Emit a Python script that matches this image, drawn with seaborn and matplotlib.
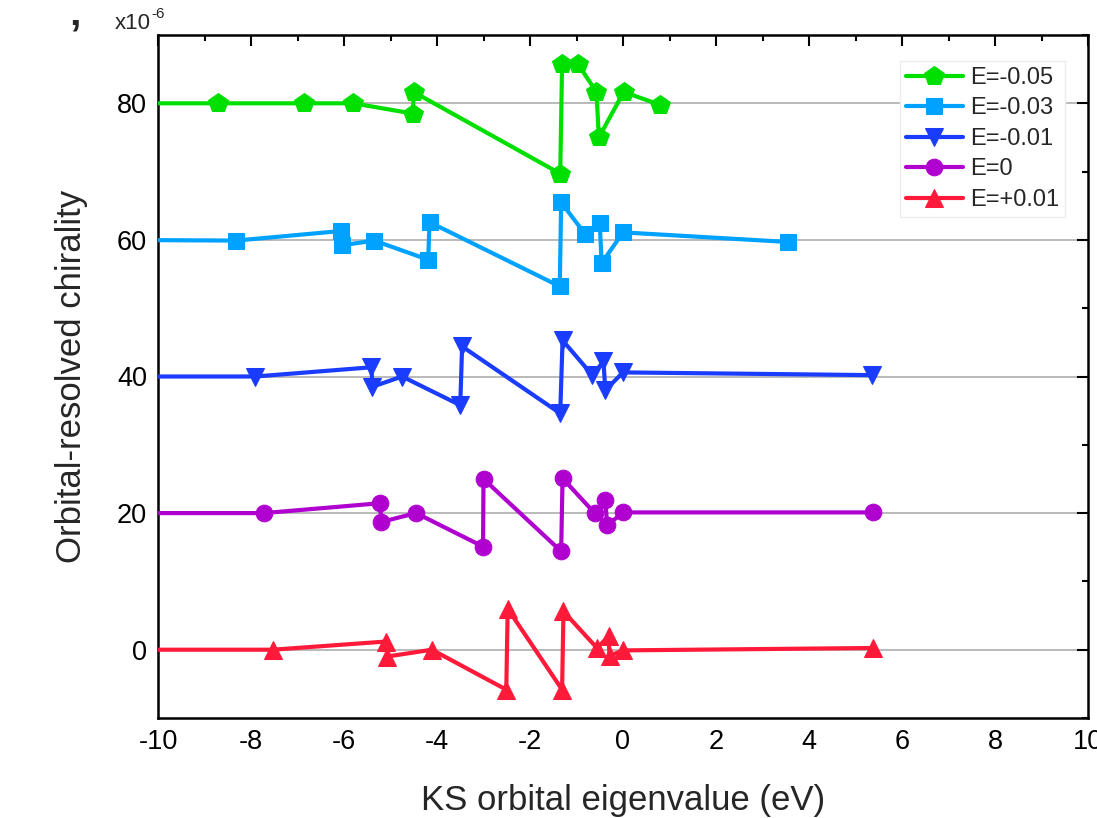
import matplotlib
matplotlib.use("Agg")
import matplotlib.pyplot as plt
import numpy as np
import pandas as pd
import seaborn as sns
from matplotlib.ticker import MultipleLocator

# ---- data (values in units of 1e-6) ----
labels = ["E=-0.05", "E=-0.03", "E=-0.01", "E=0", "E=+0.01"]

x_m005 = [-11.0, -8.72, -6.87, -5.80, -4.52, -4.50, -1.35, -1.31, -0.975, -0.57, -0.52, 0.015, 0.79]
y_m005 = [80.0, 80.0, 80.0, 80.0, 78.5, 81.65, 69.7, 85.8, 85.8, 81.65, 75.0, 81.65, 79.8]

x_m003 = [-11.0, -8.32, -6.07, -6.05, -5.35, -4.19, -4.16, -1.36, -1.33, -0.81, -0.50, -0.46, 0.00, 3.54]
y_m003 = [60.0, 59.9, 61.3, 59.2, 59.9, 57.1, 62.6, 53.2, 65.5, 60.8, 62.5, 56.6, 61.1, 59.7]

x_m001 = [-11.0, -7.91, -5.41, -5.39, -4.75, -3.50, -3.46, -1.35, -1.30, -0.66, -0.42, -0.38, 0.00, 5.36]
y_m001 = [40.0, 40.0, 41.35, 38.5, 40.0, 35.8, 44.4, 34.6, 45.3, 40.2, 42.2, 38.0, 40.6, 40.2]

x_0 = [-11.0, -7.72, -5.22, -5.20, -4.45, -3.01, -3.00, -1.33, -1.30, -0.61, -0.38, -0.34, 0.00, 5.37]
y_0 = [20.0, 20.0, 21.45, 18.7, 20.0, 15.1, 25.0, 14.4, 25.1, 20.0, 21.9, 18.2, 20.1, 20.1]

x_p001 = [-11.0, -7.53, -5.09, -5.07, -4.11, -2.51, -2.48, -1.31, -1.28, -0.56, -0.31, -0.29, 0.00, 5.38]
y_p001 = [0.0, 0.0, 1.2, -1.0, 0.0, -5.85, 6.0, -5.85, 5.6, 0.25, 1.95, -0.9, -0.1, 0.25]

xs = [x_m005, x_m003, x_m001, x_0, x_p001]
ys = [y_m005, y_m003, y_m001, y_0, y_p001]

colors = ["#00e000", "#00a2ff", "#1a3cff", "#b000d0", "#ff1a3a"]
markers = ["p", "s", "v", "o", "^"]
msizes = [14.5, 11.5, 13.5, 12, 13.5]

sns.set_style("white")
plt.rcParams["font.family"] = ["Liberation Sans", "DejaVu Sans"]
plt.rcParams["axes.unicode_minus"] = False

fig = plt.figure(figsize=(10.97, 8.18), dpi=100)
ax = fig.add_axes([158 / 1097, 100 / 818, 930 / 1097, 683 / 818])

for yv in [0, 20, 40, 60, 80]:
    ax.axhline(yv, color="#b4b4b4", lw=1.3, zorder=0)

for lab, x, y, c, m, ms in zip(labels, xs, ys, colors, markers, msizes):
    df = pd.DataFrame({"x": x, "y": y})
    sns.lineplot(data=df, x="x", y="y", sort=False, estimator=None, ax=ax,
                 color=c, lw=3.0, marker=m, markersize=ms,
                 markeredgecolor=c, markerfacecolor=c, label=lab, zorder=3)

ax.set_xlim(-10, 10)
ax.set_ylim(-10, 90)
ax.xaxis.set_major_locator(MultipleLocator(2))
ax.xaxis.set_minor_locator(MultipleLocator(1))
ax.set_yticks([0, 20, 40, 60, 80])
ax.yaxis.set_minor_locator(MultipleLocator(10))

for s in ax.spines.values():
    s.set_visible(True)
    s.set_linewidth(1.8)
    s.set_color("black")

ax.tick_params(which="both", direction="in", top=True, right=True, width=1.5, colors="black")
ax.tick_params(which="major", length=8, labelsize=19.5, pad=8)
ax.tick_params(which="minor", length=4.5)

ax.set_xlabel("KS orbital eigenvalue (eV)", fontsize=25)
ax.set_ylabel("Orbital-resolved chirality", fontsize=25)
ax.xaxis.set_label_coords(0.5, -0.097)
ax.yaxis.set_label_coords(-0.075, 0.5)

ax.text(-0.046, 1.002, "x10", transform=ax.transAxes, ha="left", va="bottom", fontsize=16)
ax.text(-0.0075, 1.02, "-6", transform=ax.transAxes, ha="left", va="bottom", fontsize=11)
fig.text(0.063, 0.93, "\u2019", fontsize=30, fontweight="bold", ha="left", va="bottom")

leg = ax.legend(loc="upper right", bbox_to_anchor=(0.975, 0.962), borderaxespad=0,
                fontsize=17, handlelength=2.4, labelspacing=0.36, handletextpad=0.3,
                frameon=True, fancybox=False, borderpad=0.25)
leg.get_frame().set_edgecolor("#ececec")
leg.get_frame().set_facecolor("white")
leg.get_frame().set_alpha(1.0)
leg.set_zorder(5)

fig.savefig("out.png", dpi=100)
